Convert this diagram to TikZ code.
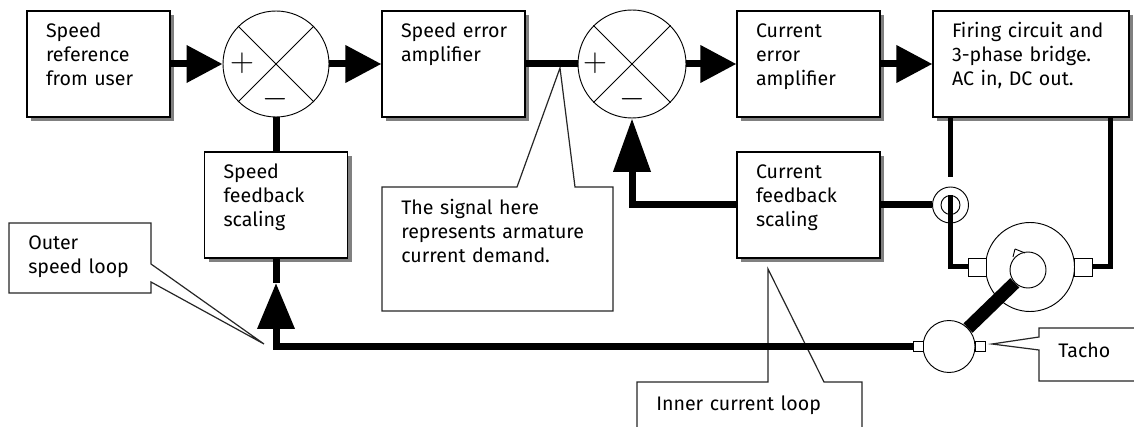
\documentclass[tikz,border=0pt]{standalone}
\usepackage{fontspec}
\setmainfont{Fira Sans}
\usetikzlibrary{arrows.meta,shadows}

\tikzset{
	block/.style={rectangle, draw=black, fill=white, line width=.9pt, inner xsep=14.25pt, inner ysep=0pt, text width=#1, align=left, text height=20.25pt, text depth=59.25pt, drop shadow={shadow xshift=3pt, shadow yshift=-3pt, fill=black!50, opacity=1}},
	block/.default=78.75pt,
	summer/.style={circle, draw=black, fill=white, line width=.7pt, inner sep=0pt, minimum size=#1},
	sign/.style={inner sep=0pt, font=\fontsize{24}{24}\selectfont},
	wire/.style={line width=5.25pt, line join=miter},
	thinwire/.style={line width=3.75pt, line join=miter},
	bigtip/.style={-{Triangle[length=#1,width=27pt]}},
	terminal/.style={rectangle, draw=black, fill=white, line width=.7pt, inner sep=0pt, minimum width=#1, minimum height=13.5pt},
	callout/.style={draw=black!85, fill=white, line width=.9pt},
	note/.style={anchor=base west, inner sep=0pt, text width=#1, align=left},
}

\begin{document}
\begin{tikzpicture}[x=.75pt,y=-.75pt,font=\fontsize{14.7}{18}\selectfont]
	\useasboundingbox (0,0) rectangle (1134,427);

	\draw [callout] (382,187) -- (517,187) -- (560,68) -- (575,187) -- (613,187) -- (613,311) -- (382,311) -- cycle;
	\draw [callout] (9,223) -- (151,223) -- (151,264) -- (264,344) -- (151,282) -- (151,293) -- (9,293) -- cycle;
	\draw [callout] (1145,328) -- (1039,328) -- (1039,337) -- (992,344) -- (1039,350) -- (1039,381) -- (1145,381);
	\draw [callout] (637,435) -- (637,382) -- (768,382) -- (768,269) -- (824,382) -- (862,382) -- (862,435);
	\node [note=170pt] (signaltext) at (401,215) {The signal here\\represents armature\\current demand.};
	\node [note=100pt] (outertext) at (28,250) {Outer\\speed loop};
	\node [note=50pt] (tachotext) at (1058,357) {Tacho};
	\node [note=140pt] (innertext) at (656,410) {Inner current loop};

	\node [block] (spdref) at (98.5,64) {Speed\\reference\\from user};
	\node [block] (spderr) at (453.5,64) {\mbox{Speed error}\\amplifier};
	\node [block] (curerr) at (808.5,64) {Current\\error\\amplifier};
	\node [block=118.5pt] (firing) at (1031,64) {Firing circuit and\\3-phase bridge.\\AC in, DC out.};
	\node [block] (spdfb) at (276,205) {Speed\\feedback\\scaling};
	\node [block] (curfb) at (808.5,205) {Current\\feedback\\scaling};

	\node [summer=79.5pt] (sumspd) at (276,64) {};
	\node [summer=81pt] (sumcur) at (632,64) {};
	\draw [line width=.7pt] (sumspd.45) -- (sumspd.225);
	\draw [line width=.7pt] (sumspd.135) -- (sumspd.315);
	\draw [line width=.7pt] (sumcur.45) -- (sumcur.225);
	\draw [line width=.7pt] (sumcur.135) -- (sumcur.315);
	\node [sign] (plusspd) at (242,63) {$+$};
	\node [sign] (minusspd) at (275,99) {$-$};
	\node [sign] (pluscur) at (595,63) {$+$};
	\node [sign] (minuscur) at (632,99) {$-$};

	\draw [wire,bigtip=27pt] (spdref) -- (sumspd);
	\draw [wire,bigtip=27pt] (sumspd) -- (spderr);
	\draw [wire] (spderr) -- (sumcur);
	\draw [wire,bigtip=27pt] (sumcur) -- (curerr);
	\draw [wire,bigtip=27pt] (curerr) -- (firing);
	\draw [wire] (sumspd) -- (spdfb);
	\draw [wire,bigtip=40pt] (curfb) -| (sumcur);

	\node [summer=66.75pt] (stator) at (1030,267) {};
	\node [summer=27pt] (rotor) at (1028,270) {};
	\draw [line width=.7pt] (1015,249) -- (1013,257);
	\draw [line width=.7pt] (1015,249) -- (1025,253);
	\node [terminal=13.5pt] (brushl) at (977,267) {};
	\node [terminal=13.5pt] (brushr) at (1083.5,267) {};
	\coordinate (firel) at (950.5,117);
	\coordinate (firer) at (1110,117);

	\draw [thinwire] (firel) -- ++(0,60);
	\node [summer=27pt] (ctouter) at (950.5,205) {};
	\node [summer=14.25pt] (ctinner) at (950.5,205) {};
	\draw [wire] (curfb) -- (ctouter);
	\draw [thinwire] (ctinner.north) |- (brushl);
	\draw [thinwire] (firer) |- (brushr);

	\node [summer=39pt] (tacho) at (949,346.5) {};
	\node [terminal=8pt, minimum height=8pt] (tachol) at (918.5,346.5) {};
	\node [terminal=7pt, minimum height=8pt] (tachor) at (980.5,346.5) {};
	\draw [line width=9.75pt] (rotor) -- (tacho);
	\coordinate (spdtip) at (276,283);
	\draw [wire,bigtip=34.5pt] (tachol) -| (spdtip);
	\draw [wire] (spdtip) -- (spdfb);
\end{tikzpicture}
\end{document}
